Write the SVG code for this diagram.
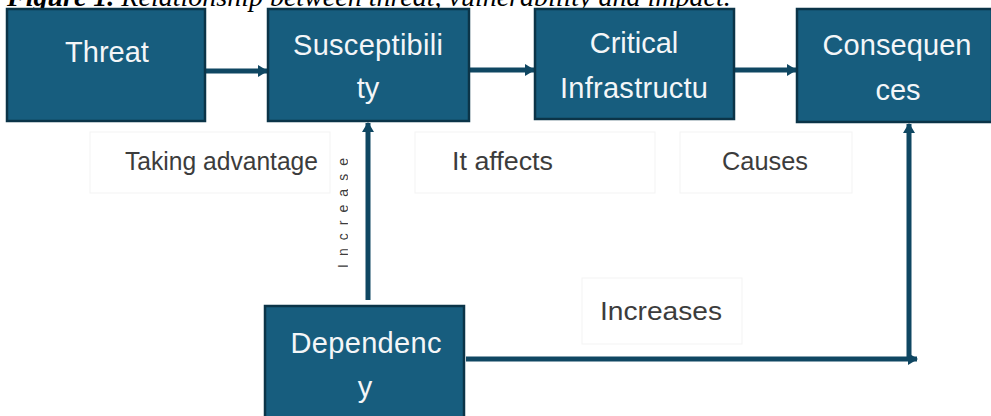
<svg xmlns="http://www.w3.org/2000/svg" width="991" height="416" viewBox="0 0 991 416">
  <defs>
    <style>
      .box { fill: #175d7e; stroke: #0b3448; stroke-width: 2.5; }
      .bt { font-family: "Liberation Sans", Arial, sans-serif; font-size: 29px; fill: #f4f6f8; text-anchor: middle; }
      .lab { font-family: "Liberation Sans", Arial, sans-serif; font-size: 25px; fill: #3c3c3c; }
      .vlab { font-family: "Liberation Sans", Arial, sans-serif; font-size: 14px; fill: #3c3c3c; }
      .lbox { fill: none; stroke: #f3f3f3; stroke-width: 1; }
      .conn { fill: none; stroke: #0f4762; stroke-width: 5; }
      .title { font-family: "Liberation Serif", "Times New Roman", serif; font-size: 28px; fill: #000; }
    </style>
    <marker id="ah" markerUnits="userSpaceOnUse" markerWidth="12" markerHeight="14" refX="9" refY="7" orient="auto">
      <path d="M0,1 L10,7 L0,13 Z" fill="#0f4762"/>
    </marker>
    <clipPath id="vclip">
      <rect x="300" y="150" width="48" height="140"/>
    </clipPath>
  </defs>
  <rect width="991" height="416" fill="#ffffff"/>

  <text class="title" x="7" y="6"><tspan font-weight="bold" font-style="italic">Figure 1.</tspan><tspan font-style="italic"> Relationship between threat, vulnerability and impact.</tspan></text>

  <g id="label-boxes">
    <rect class="lbox" x="90" y="132" width="240" height="61"/>
    <rect class="lbox" x="415" y="132" width="240" height="61"/>
    <rect class="lbox" x="680" y="132" width="172" height="61"/>
    <rect class="lbox" x="582" y="278" width="160" height="66"/>
  </g>

  <g id="connectors">
    <line class="conn" x1="206" y1="71" x2="267" y2="71" marker-end="url(#ah)"/>
    <line class="conn" x1="470" y1="70" x2="534" y2="70" marker-end="url(#ah)"/>
    <line class="conn" x1="735" y1="70" x2="796" y2="70" marker-end="url(#ah)"/>
    <line class="conn" x1="368" y1="300" x2="368" y2="123" marker-end="url(#ah)"/>
    <line class="conn" x1="466" y1="359" x2="917" y2="359" marker-end="url(#ah)"/>
    <line class="conn" x1="909" y1="361" x2="909" y2="124" marker-end="url(#ah)"/>
  </g>

  <g id="threat">
    <rect class="box" x="7" y="9" width="198" height="112"/>
    <text class="bt" x="107" y="62">Threat</text>
  </g>
  <g id="susceptibility">
    <rect class="box" x="268" y="9" width="201" height="112"/>
    <text class="bt" x="368" y="55" textLength="150">Susceptibili</text>
    <text class="bt" x="368" y="98">ty</text>
  </g>
  <g id="critical-infrastructure">
    <rect class="box" x="535" y="9" width="199" height="110"/>
    <text class="bt" x="634" y="53">Critical</text>
    <text class="bt" x="634" y="98" textLength="148">Infrastructu</text>
  </g>
  <g id="consequences">
    <rect class="box" x="797" y="9" width="195" height="113"/>
    <text class="bt" x="897" y="55" textLength="149">Consequen</text>
    <text class="bt" x="898" y="100">ces</text>
  </g>
  <g id="dependency">
    <rect class="box" x="265" y="306" width="199" height="112"/>
    <text class="bt" x="366" y="353" textLength="151">Dependenc</text>
    <text class="bt" x="365" y="397">y</text>
  </g>

  <g id="labels">
    <text class="lab" x="125" y="170" textLength="193" lengthAdjust="spacingAndGlyphs">Taking advantage</text>
    <text class="lab" x="452" y="170" textLength="101" lengthAdjust="spacingAndGlyphs">It affects</text>
    <text class="lab" x="722" y="170" textLength="86" lengthAdjust="spacingAndGlyphs">Causes</text>
    <text class="lab" x="600" y="320" textLength="122" lengthAdjust="spacingAndGlyphs">Increases</text>
    <g clip-path="url(#vclip)">
      <text class="vlab" transform="translate(348,268) rotate(-90)" x="0" y="0" textLength="125">Increases</text>
    </g>
  </g>
</svg>
